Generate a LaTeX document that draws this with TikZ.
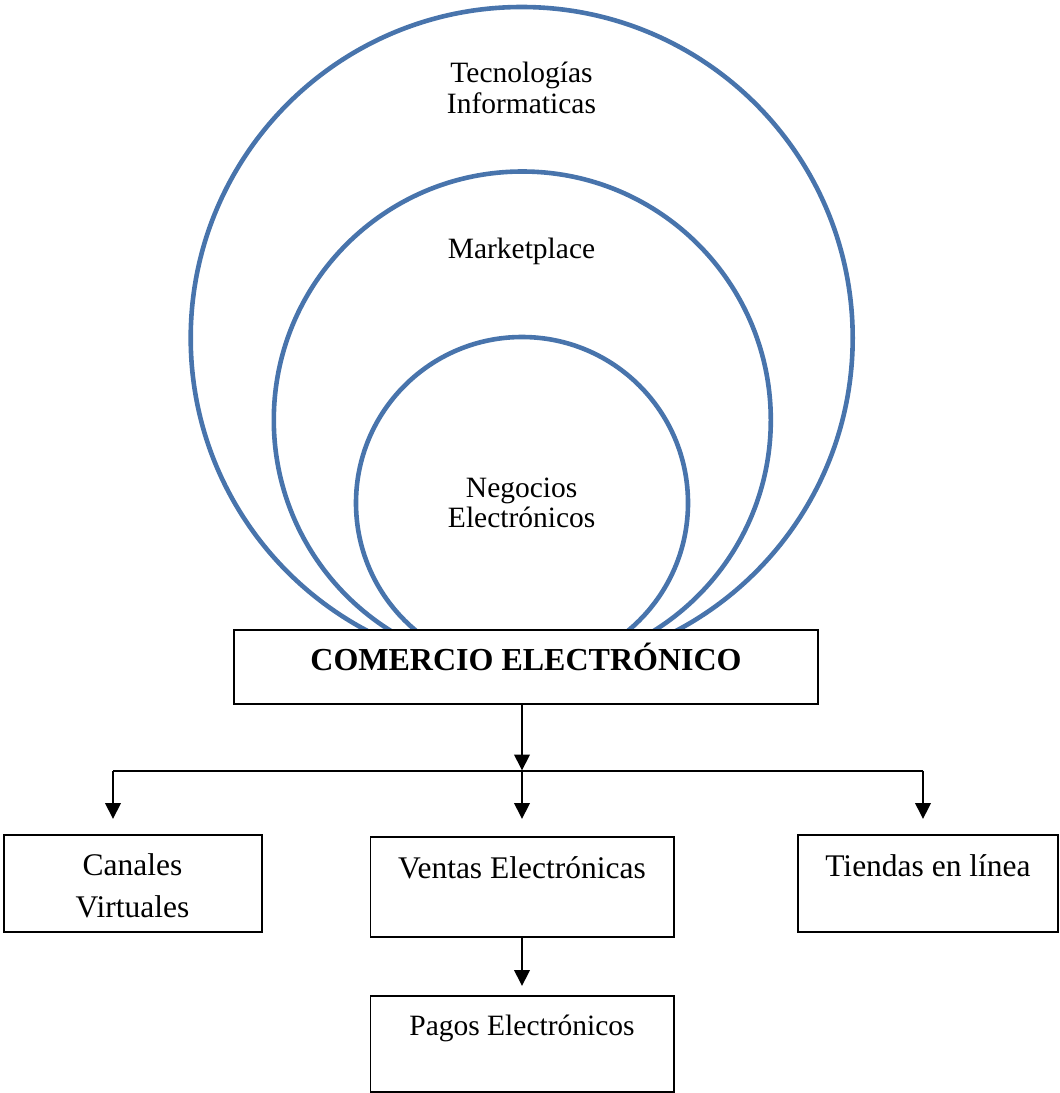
\documentclass[tikz,border=0pt]{standalone}
\usepackage{fontspec}
\setmainfont{Liberation Serif}
\usetikzlibrary{arrows.meta}
\definecolor{ringblue}{RGB}{72,116,172}
\tikzset{
  ring/.style={circle, draw=ringblue, line width=4.6pt, inner sep=0pt, outer sep=0pt},
  stepbox/.style={rectangle, draw=black, line width=1.7pt, fill=white, inner sep=0pt, outer sep=0pt},
  lbl/.style={anchor=base, inner sep=0pt, font=\fontsize{31.5}{38}\selectfont},
  clbl/.style={anchor=base, inner sep=0pt, font=\fontsize{29.5}{34}\selectfont},
  conn/.style={draw=black, line width=2pt},
  arr/.style={conn, -{Triangle[width=15.5pt,length=16pt]}}
}
\begin{document}
\begin{tikzpicture}[x=1pt,y=-1pt]
\useasboundingbox (0,0) rectangle (1060,1093);
% rings
\node[ring, minimum size=662pt] (outer) at (521.7,338) {};
\node[ring, minimum size=497pt] (middle) at (522.3,420) {};
\node[ring, minimum size=332pt] (inner) at (522,503) {};
% ring labels
\node[clbl] (tec1) at (521.5,82) {Tecnologías};
\node[clbl] (tec2) at (521.5,113) {Informaticas};
\node[clbl] (mkt) at (521.5,258) {Marketplace};
\node[clbl] (neg1) at (521.7,497) {Negocios};
\node[clbl] (neg2) at (521.7,527) {Electrónicos};
% title box
\node[stepbox, minimum width=584pt, minimum height=74pt] (title) at (526,667) {};
\node[anchor=base, inner sep=0pt, font=\fontsize{32}{38}\selectfont\bfseries] (titletext) at (526,670) {COMERCIO ELECTRÓNICO};
% lower boxes
\node[stepbox, minimum width=258pt, minimum height=97pt] (canales) at (133,883.5) {};
\node[stepbox, minimum width=303.5pt, minimum height=100pt] (ventas) at (522.3,887) {};
\node[stepbox, minimum width=260pt, minimum height=97pt] (tiendas) at (928,883.5) {};
\node[stepbox, minimum width=303.5pt, minimum height=96pt] (pagos) at (522.3,1044) {};
\node[lbl] (can1) at (132.5,875) {Canales};
\node[lbl] (can2) at (132.5,917) {Virtuales};
\node[lbl] (ven) at (522,878) {Ventas Electrónicas};
\node[lbl] (tie) at (928,876) {Tiendas en línea};
\node[clbl] (pag) at (522,1035) {Pagos Electrónicos};
% connectors
\coordinate (jm) at (522,770.5);
\coordinate (jl) at (113,770.5);
\coordinate (jr) at (923,770.5);
\coordinate (al) at (113,819);
\coordinate (am) at (522,819);
\coordinate (ar) at (923,819);
\coordinate (ap) at (522,986);
\draw[arr] (jm |- title.south) -- (jm);
\draw[conn] (jl) -- (jr);
\draw[arr] (jl) -- (al);
\draw[arr] (jm) -- (am);
\draw[arr] (jr) -- (ar);
\draw[arr] (ventas.south -| ap) -- (ap);
\end{tikzpicture}
\end{document}
